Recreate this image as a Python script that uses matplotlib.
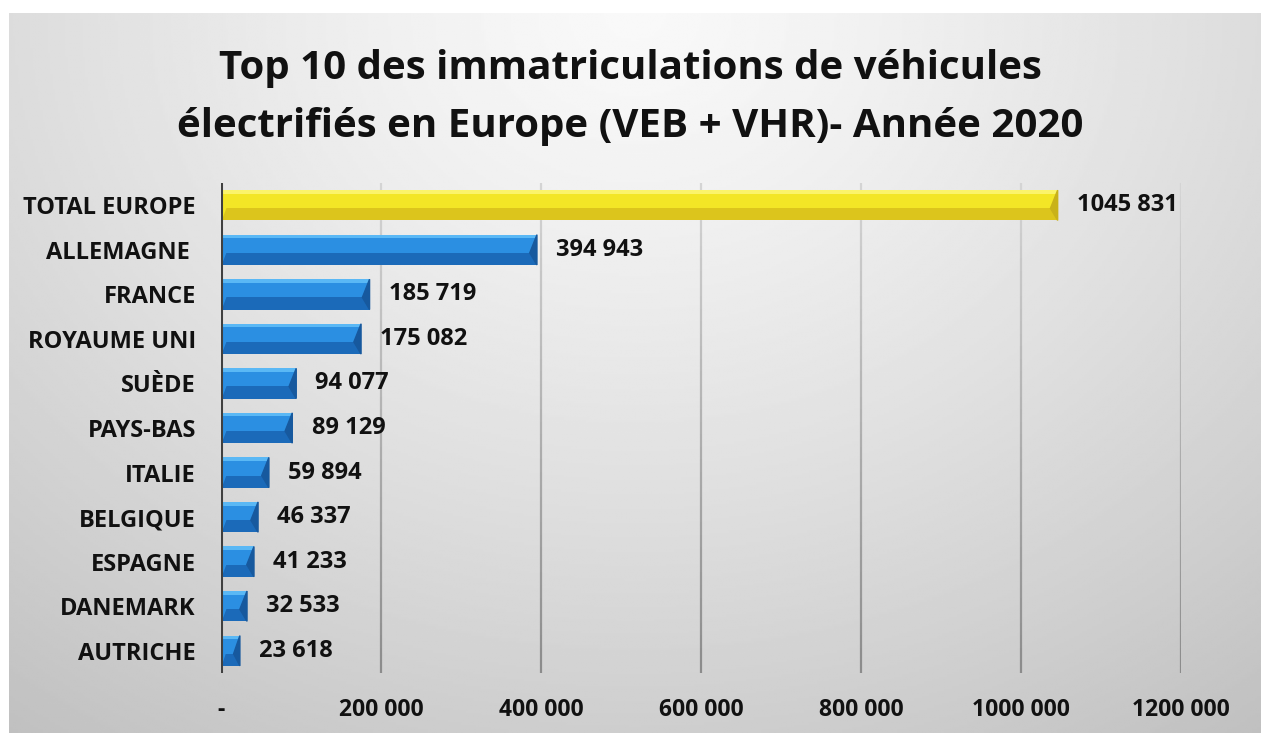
import matplotlib.pyplot as plt
import numpy as np
from matplotlib.collections import LineCollection
from matplotlib.patches import Polygon

plt.rcParams['font.family'] = ['Open Sans', 'DejaVu Sans']

countries = ["TOTAL EUROPE", "ALLEMAGNE ", "FRANCE", "ROYAUME UNI", "SUÈDE", "PAYS-BAS",
             "ITALIE", "BELGIQUE", "ESPAGNE", "DANEMARK", "AUTRICHE"]
registrations = [1045831, 394943, 185719, 175082, 94077, 89129, 59894, 46337, 41233, 32533, 23618]
xticks = [0, 200000, 400000, 600000, 800000, 1000000, 1200000]


def fmt(v):
    if v == 0:
        return "-"
    return f"{v // 1000} {v % 1000:03d}"


fig = plt.figure(figsize=(12.61, 7.33), dpi=100)
fig.patch.set_facecolor("white")

# background gradient
bg = fig.add_axes([9 / 1261, 0, 1 - 9 / 1261, 1 - 13 / 733])
yy, xx = np.mgrid[0:1:300j, 0:1:500j]
r = np.sqrt(((xx - 0.5) / 0.75) ** 2 + (yy / 1.1) ** 2)
shade = np.clip(0.975 - 0.19 * r ** 1.3, 0, 1)
bg.imshow(shade, cmap="gray", vmin=0, vmax=1, aspect="auto", extent=[0, 1, 1, 0])
bg.set_axis_off()

ax = fig.add_axes([221 / 1261, 1 - 673 / 733, (1181 - 221) / 1261, (673 - 183) / 733])
ax.set_facecolor("none")
ax.set_xlim(0, 1200000)
ax.set_ylim(len(countries) - 0.5, -0.5)

# vertical gridlines, darker toward the bottom
for xv in xticks[1:]:
    ys = np.linspace(-0.5, len(countries) - 0.5, 40)
    segs = [[(xv, ys[i]), (xv, ys[i + 1])] for i in range(len(ys) - 1)]
    cols = [str(0.83 - 0.28 * i / (len(ys) - 2)) for i in range(len(ys) - 1)]
    ax.add_collection(LineCollection(segs, colors=cols, linewidths=1.6, zorder=1))

h = 0.68
bev = 9000
for i, (name, v) in enumerate(zip(countries, registrations)):
    if i == 0:
        light, mid, dark, edge = "#fbf46a", "#f3e626", "#dcc51c", "#c9b21a"
    else:
        light, mid, dark, edge = "#5ab8f5", "#2b8fe2", "#1b6ab9", "#17599e"
    top = i - h / 2
    ax.barh(i, v, height=h, color=dark, zorder=2)
    ax.barh(i - h * 0.2, v, height=h * 0.6, color=mid, zorder=3)
    ax.barh(top + h * 0.06, v, height=h * 0.12, color=light, zorder=4)
    b = min(bev, v / 3)
    ax.add_patch(Polygon([(v, top), (v, i + h / 2), (v - b, i + h * 0.1)],
                         closed=True, color=edge, zorder=5))
    ax.add_patch(Polygon([(0, top), (0, i + h / 2), (b * 0.8, i)],
                         closed=True, color=mid, zorder=5))
    ax.text(v + 24000, i, fmt(v), va="center", ha="left", fontsize=17,
            fontweight="bold", color="#111111")

ax.axvline(0, color="#404040", linewidth=2.2, zorder=6)

ax.set_yticks(range(len(countries)))
ax.set_yticklabels(countries, fontsize=17, fontweight="bold", color="#111111")
ax.set_xticks(xticks)
ax.set_xticklabels([fmt(t) for t in xticks], fontsize=16.5, fontweight="bold", color="#111111")
ax.tick_params(length=0)
ax.tick_params(axis="y", pad=18)
ax.tick_params(axis="x", pad=18)
for s in ax.spines.values():
    s.set_visible(False)

fig.text(0.5, 1 - 68 / 733, "Top 10 des immatriculations de véhicules", ha="center", va="center",
         fontsize=29, fontweight="bold", color="#111111")
fig.text(0.5, 1 - 126 / 733, "électrifiés en Europe (VEB + VHR)- Année 2020", ha="center", va="center",
         fontsize=29, fontweight="bold", color="#111111")

fig.savefig("out.png", dpi=100)
